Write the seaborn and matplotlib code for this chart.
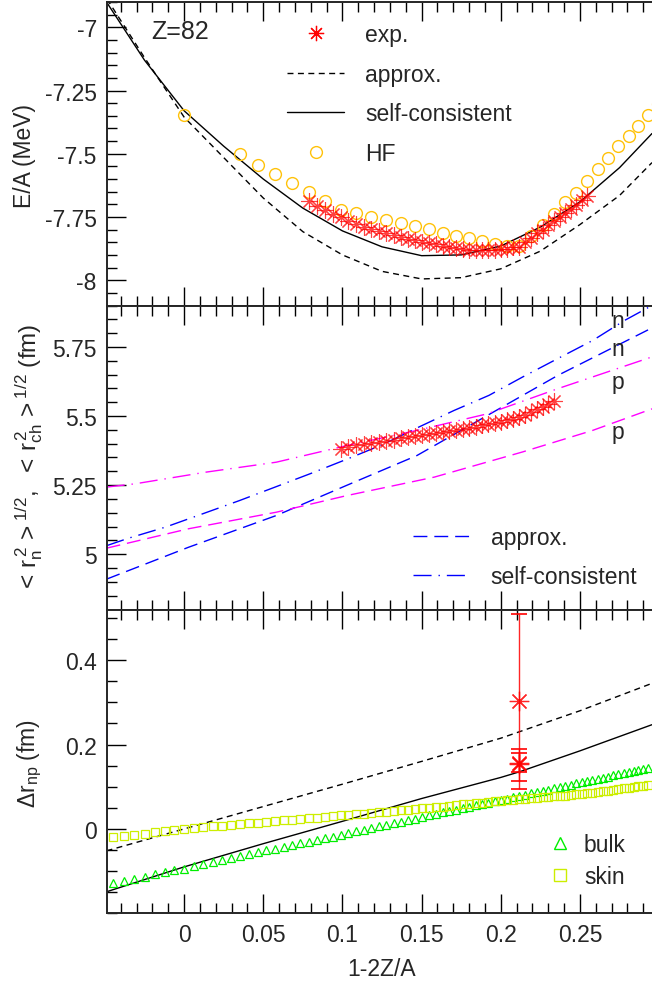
import numpy as np
import matplotlib
matplotlib.use("Agg")
import matplotlib.pyplot as plt
import seaborn as sns
from matplotlib.ticker import MultipleLocator, FixedLocator, FormatStrFormatter
from matplotlib.lines import Line2D
from matplotlib.legend_handler import HandlerLine2D

Z = 82

# ---------------- top panel: E/A ----------------
hf_A = [164, 170, 172, 174, 176, 178, 180, 182, 184, 186, 188, 190, 192, 194, 196, 198,
        200, 202, 204, 206, 208, 210, 212, 214, 216, 218, 220, 222, 224, 226, 228, 230,
        232, 234]
hf_EA = [-7.346, -7.502, -7.544, -7.580, -7.616, -7.652, -7.686, -7.721, -7.735, -7.750,
         -7.763, -7.774, -7.786, -7.799, -7.812, -7.824, -7.832, -7.843, -7.855, -7.864,
         -7.866, -7.824, -7.780, -7.737, -7.690, -7.654, -7.608, -7.560, -7.515, -7.471,
         -7.430, -7.392, -7.346, -7.304]

exp_A = [178, 179, 180, 181, 182, 183, 184, 185, 186, 187, 188, 189, 190, 191, 192, 193,
         194, 195, 196, 197, 198, 199, 200, 201, 202, 203, 204, 205, 206, 207, 208, 209,
         210, 211, 212, 213, 214, 215, 216, 217, 218, 219, 220]
exp_EA = [-7.685, -7.705, -7.722, -7.738, -7.752, -7.765, -7.777, -7.788, -7.798, -7.807,
          -7.815, -7.822, -7.829, -7.836, -7.842, -7.848, -7.853, -7.858, -7.864, -7.868,
          -7.872, -7.875, -7.879, -7.880, -7.882, -7.881, -7.880, -7.877, -7.875, -7.870,
          -7.868, -7.848, -7.834, -7.815, -7.800, -7.783, -7.765, -7.750, -7.734, -7.717,
          -7.701, -7.684, -7.668]

ea_x = [-0.049, -0.025, 0.0, 0.025, 0.05, 0.075, 0.1, 0.125, 0.15, 0.175, 0.2, 0.225,
        0.25, 0.275, 0.2955]
ea_sc = [-6.90, -7.13, -7.33, -7.47, -7.60, -7.715, -7.805, -7.868, -7.903, -7.900, -7.865,
         -7.790, -7.690, -7.555, -7.420]
ea_approx = [-6.885, -7.12, -7.355, -7.515, -7.675, -7.808, -7.900, -7.965, -7.995,
             -7.990, -7.955, -7.885, -7.780, -7.665, -7.535]

# ---------------- middle panel: radii ----------------
rn_sc_x = [-0.0489, -0.0351, -0.0118, 0.0116, 0.0349, 0.0575, 0.0804, 0.1033, 0.1255,
           0.1482, 0.1704, 0.1926, 0.2137, 0.2360, 0.2582, 0.2782, 0.2955]
rn_sc = [5.031, 5.058, 5.098, 5.146, 5.194, 5.243, 5.293, 5.345, 5.397, 5.460, 5.520,
         5.575, 5.641, 5.708, 5.774, 5.846, 5.900]
rn_ap_x = [-0.0489, 0.0027, 0.0582, 0.1026, 0.147, 0.1915, 0.236, 0.2955]
rn_ap = [4.910, 5.025, 5.140, 5.249, 5.357, 5.502, 5.647, 5.819]
rp_sc_x = [-0.0489, -0.0307, 0.0138, 0.0582, 0.1026, 0.147, 0.1915, 0.236, 0.2955]
rp_sc = [5.243, 5.255, 5.297, 5.333, 5.393, 5.448, 5.508, 5.599, 5.714]
rp_ap_x = [-0.0489, 0.0027, 0.0582, 0.1026, 0.158, 0.2137, 0.258, 0.2955]
rp_ap = [5.022, 5.092, 5.152, 5.212, 5.279, 5.370, 5.448, 5.526]

rch_A = [182, 183, 184, 185, 186, 187, 188, 189, 190, 191, 192, 193, 194, 195, 196, 197,
         198, 199, 200, 201, 202, 203, 204, 205, 206, 207, 208, 209, 210, 211, 212, 213, 214]
rch = [5.382, 5.388, 5.394, 5.398, 5.402, 5.407, 5.411, 5.415, 5.419, 5.423, 5.427, 5.431,
       5.435, 5.439, 5.443, 5.446, 5.450, 5.454, 5.458, 5.462, 5.466, 5.470, 5.475, 5.480,
       5.485, 5.490, 5.496, 5.505, 5.514, 5.524, 5.534, 5.545, 5.556]

# ---------------- bottom panel: neutron skin ----------------
skin_A = list(range(157, 233))
bulk = [-0.129, -0.124, -0.118, -0.113, -0.108, -0.103, -0.098, -0.094, -0.088, -0.083,
        -0.078, -0.074, -0.069, -0.064, -0.060, -0.055, -0.051, -0.047, -0.042, -0.038,
        -0.034, -0.030, -0.026, -0.022, -0.018, -0.014, -0.010, -0.006, -0.002, 0.002,
        0.006, 0.010, 0.013, 0.017, 0.021, 0.024, 0.028, 0.032, 0.035, 0.039,
        0.042, 0.046, 0.049, 0.052, 0.056, 0.059, 0.062, 0.065, 0.069, 0.072,
        0.075, 0.078, 0.081, 0.084, 0.087, 0.090, 0.093, 0.096, 0.099, 0.102,
        0.105, 0.108, 0.110, 0.113, 0.116, 0.119, 0.121, 0.124, 0.127, 0.129,
        0.132, 0.134, 0.137, 0.139, 0.142, 0.144]
skin = [-0.020, -0.017, -0.014, -0.011, -0.008, -0.005, -0.002, 0.000, 0.002, 0.004,
        0.006, 0.008, 0.009, 0.011, 0.013, 0.015, 0.017, 0.018, 0.020, 0.022,
        0.023, 0.025, 0.027, 0.028, 0.030, 0.032, 0.033, 0.035, 0.036, 0.038,
        0.040, 0.041, 0.043, 0.044, 0.046, 0.047, 0.049, 0.050, 0.052, 0.053,
        0.055, 0.056, 0.058, 0.059, 0.061, 0.062, 0.064, 0.065, 0.067, 0.068,
        0.069, 0.070, 0.071, 0.073, 0.074, 0.075, 0.076, 0.077, 0.078, 0.079,
        0.080, 0.082, 0.083, 0.085, 0.086, 0.088, 0.089, 0.091, 0.092, 0.094,
        0.096, 0.097, 0.099, 0.101, 0.102, 0.104]
dr_x = [-0.049, 0.0, 0.05, 0.1, 0.15, 0.2, 0.2115, 0.25, 0.2955]
dr_sc = [-0.149, -0.090, -0.035, 0.018, 0.072, 0.122, 0.135, 0.185, 0.247]
dr_ap_x = [-0.049, 0.0, 0.05, 0.1, 0.15, 0.2, 0.25, 0.2955]
dr_ap = [-0.052, 0.000, 0.053, 0.106, 0.160, 0.215, 0.280, 0.345]

skin_exp_A = [208, 208, 208]
skin_exp = [0.302, 0.156, 0.153]
skin_err_lo = [0.207, 0.021, 0.039]
skin_err_hi = [0.207, 0.025, 0.036]


def xval(A):
    return 1.0 - 2.0 * Z / np.asarray(A, dtype=float)


# ---------------- style ----------------
sns.set_style("ticks")
plt.rcParams["font.family"] = ["Liberation Sans", "DejaVu Sans"]
plt.rcParams["mathtext.fontset"] = "custom"
plt.rcParams["mathtext.rm"] = "Liberation Sans"
plt.rcParams["mathtext.it"] = "Liberation Sans"
plt.rcParams["mathtext.default"] = "regular"
plt.rcParams["axes.unicode_minus"] = False

FS = 16.5
RED = "#ff0000"
HFC = "#ffc20a"
GREEN = "#00ee00"
YEL = "#ccee00"
BLUE = "#0000ff"
MAG = "#ff00ff"
STAR = (8, 2, 0)
SHORT_DASH = (0, (4.3, 3.2))
LONG_DASH = (0, (10, 5))
DASH_DOT = (0, (13, 5, 1, 5))

W, H = 652, 987
fig = plt.figure(figsize=(W / 100, H / 100), dpi=100)
XMIN, XMAX = -0.049, 0.2955
left = 106.5 / W
width = 1.0 - left


def frac_box(top_px, bot_px):
    return [left, 1 - bot_px / H, width, (bot_px - top_px) / H]


ax1 = fig.add_axes(frac_box(3, 306.5))
ax2 = fig.add_axes(frac_box(306.5, 610.5))
ax3 = fig.add_axes(frac_box(610.5, 914.3))


def style(ax, ylim, major, minor, labels_x=False, fixed=None):
    ax.set_xlim(XMIN, XMAX)
    ax.set_ylim(*ylim)
    ax.xaxis.set_major_locator(MultipleLocator(0.05))
    ax.xaxis.set_minor_locator(MultipleLocator(0.01))
    if fixed is not None:
        ax.yaxis.set_major_locator(FixedLocator(fixed))
    else:
        ax.yaxis.set_major_locator(MultipleLocator(major))
    ax.yaxis.set_minor_locator(MultipleLocator(minor))
    ax.yaxis.set_major_formatter(FormatStrFormatter("%g"))
    ax.xaxis.set_major_formatter(FormatStrFormatter("%g"))
    ax.tick_params(which="both", direction="in", top=True, right=False,
                   labelsize=FS, width=1, color="k")
    ax.tick_params(which="major", length=14, pad=7)
    ax.tick_params(which="minor", length=7)
    ax.tick_params(axis="x", labelbottom=labels_x)
    ax.spines["right"].set_visible(False)
    for s in ["left", "top", "bottom"]:
        ax.spines[s].set_linewidth(1.4)
    ax.set_xlabel("")
    ax.set_ylabel("")


def line(ax, x, y, color, ls, lw=1.0):
    sns.lineplot(x=x, y=y, ax=ax, color=color, linestyle=ls, linewidth=lw,
                 legend=False, estimator=None, errorbar=None, sort=False)


def pts(ax, x, y, marker, color, ms, mew=1.0, alpha=1.0):
    sns.lineplot(x=x, y=y, ax=ax, linestyle="none", marker=marker, markersize=ms,
                 markerfacecolor="none", markeredgecolor=color, markeredgewidth=mew,
                 color=color, alpha=alpha, legend=False, estimator=None,
                 errorbar=None, sort=False)


class RightMarker(HandlerLine2D):
    def get_xdata(self, legend, xdescent, ydescent, width, height, fontsize):
        return [-xdescent, -xdescent + width], [-xdescent + width - 0.15 * fontsize]


# ---- top panel ----
line(ax1, ea_x, ea_approx, "k", SHORT_DASH)
line(ax1, ea_x, ea_sc, "k", "-")
pts(ax1, xval(hf_A), hf_EA, "o", HFC, 8.5, 1.0)
pts(ax1, xval(exp_A), exp_EA, STAR, RED, 12, 0.8, 0.75)
style(ax1, (-8.1, -6.9), 0.25, 0.05)
ax1.text(0.082, 0.905, "Z=82", transform=ax1.transAxes, fontsize=18,
         ha="left", va="center")
h_top = [Line2D([], [], ls="none", marker=STAR, color=RED, mfc="none", mec=RED, ms=11, mew=0.9),
         Line2D([], [], color="k", ls=SHORT_DASH, lw=1),
         Line2D([], [], color="k", ls="-", lw=1),
         Line2D([], [], ls="none", marker="o", mfc="none", mec=HFC, ms=8.5, mew=1)]
leg = ax1.legend(h_top, ["exp.", "approx.", "self-consistent", "HF"],
                 loc="upper left", bbox_to_anchor=(0.331, 0.93), frameon=False,
                 fontsize=FS, handlelength=2.5, handletextpad=0.9,
                 labelspacing=0.72, borderpad=0, borderaxespad=0, numpoints=1,
                 handler_map={Line2D: RightMarker()})

# ---- middle panel ----
line(ax2, rn_ap_x, rn_ap, BLUE, LONG_DASH)
line(ax2, rn_sc_x, rn_sc, BLUE, DASH_DOT)
line(ax2, rp_ap_x, rp_ap, MAG, LONG_DASH)
line(ax2, rp_sc_x, rp_sc, MAG, DASH_DOT)
pts(ax2, xval(rch_A), rch, STAR, RED, 12, 0.8, 0.75)
style(ax2, (4.8, 5.9), 0.25, 0.05)
for ty, t in [(5.846, "n"), (5.744, "n"), (5.624, "p"), (5.443, "p")]:
    ax2.text(0.274, ty, t, fontsize=FS, ha="center", va="center")
h_mid = [Line2D([], [], color=BLUE, ls=LONG_DASH, lw=1),
         Line2D([], [], color=BLUE, ls=DASH_DOT, lw=1)]
ax2.legend(h_mid, ["approx.", "self-consistent"], loc="upper left",
           bbox_to_anchor=(0.5617, 0.275), frameon=False, fontsize=FS,
           handlelength=2.5, handletextpad=0.9, labelspacing=0.72,
           borderpad=0, borderaxespad=0)

# ---- bottom panel ----
line(ax3, dr_ap_x, dr_ap, "k", SHORT_DASH)
line(ax3, dr_x, dr_sc, "k", "-")
pts(ax3, xval(skin_A), bulk, "^", GREEN, 5.5, 0.9)
pts(ax3, xval(skin_A), skin, "s", YEL, 5.5, 0.9)
ax3.errorbar(xval(skin_exp_A), skin_exp, yerr=[skin_err_lo, skin_err_hi], fmt="none",
             ecolor=RED, elinewidth=1, capsize=6, capthick=1.4, alpha=0.85)
pts(ax3, xval(skin_exp_A), skin_exp, STAR, RED, 14, 0.9, 0.85)
style(ax3, (-0.2, 0.52), 0.2, 0.05, labels_x=True, fixed=[0, 0.2, 0.4])
h_bot = [Line2D([], [], ls="none", marker="^", mfc="none", mec=GREEN, ms=9, mew=1),
         Line2D([], [], ls="none", marker="s", mfc="none", mec=YEL, ms=9, mew=1)]
ax3.legend(h_bot, ["bulk", "skin"], loc="upper left", bbox_to_anchor=(0.81, 0.265),
           frameon=False, fontsize=FS, handlelength=1.0, handletextpad=0.55,
           labelspacing=0.42, borderpad=0, borderaxespad=0)

# ---- axis titles ----
fig.text(25 / W, 1 - 156 / H, "E/A (MeV)", rotation=90, fontsize=FS,
         ha="center", va="center")
fig.text(29 / W, 1 - 458 / H,
         r"$<\, r_{n}^{\,2} \,>^{1/2}$,  $<\, r_{ch}^{\,2} \,>^{1/2}$ (fm)",
         rotation=90, fontsize=17.5, ha="center", va="center")
fig.text(30 / W, 1 - 763 / H, r"$\Delta r_{np}$ (fm)", rotation=90, fontsize=FS,
         ha="center", va="center")
fig.text(382 / W, 1 - 970 / H, "1-2Z/A", fontsize=FS, ha="center", va="center")

fig.savefig("out.png", dpi=100, facecolor="white")
